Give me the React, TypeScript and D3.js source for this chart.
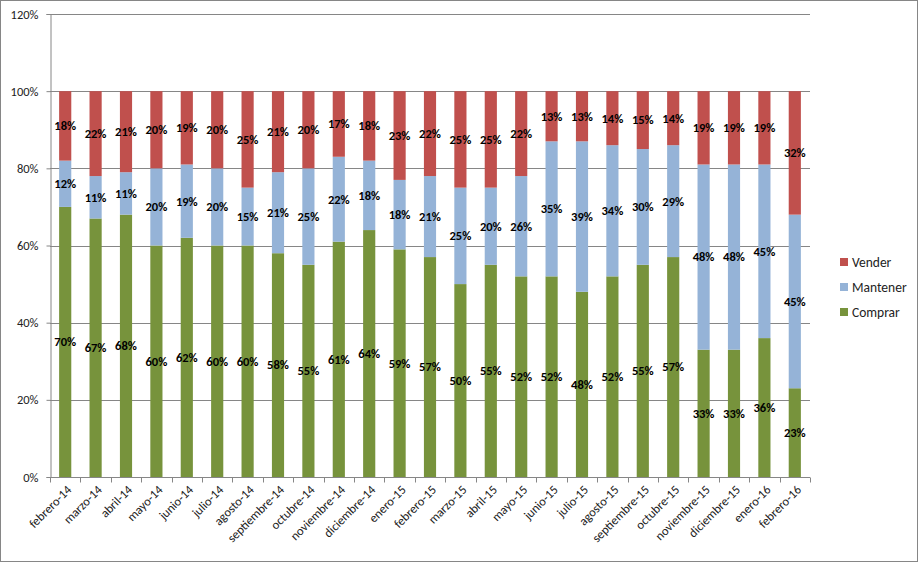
import React, { useEffect, useRef } from 'react';
import * as d3 from 'd3';

const months = [
  'febrero-14', 'marzo-14', 'abril-14', 'mayo-14', 'junio-14', 'julio-14', 'agosto-14',
  'septiembre-14', 'octubre-14', 'noviembre-14', 'diciembre-14', 'enero-15', 'febrero-15',
  'marzo-15', 'abril-15', 'mayo-15', 'junio-15', 'julio-15', 'agosto-15', 'septiembre-15',
  'octubre-15', 'noviembre-15', 'diciembre-15', 'enero-16', 'febrero-16',
];
const comprar = [70, 67, 68, 60, 62, 60, 60, 58, 55, 61, 64, 59, 57, 50, 55, 52, 52, 48, 52, 55, 57, 33, 33, 36, 23];
const mantener = [12, 11, 11, 20, 19, 20, 15, 21, 25, 22, 18, 18, 21, 25, 20, 26, 35, 39, 34, 30, 29, 48, 48, 45, 45];
const vender = [18, 22, 21, 20, 19, 20, 25, 21, 20, 17, 18, 23, 22, 25, 25, 22, 13, 13, 14, 15, 14, 19, 19, 19, 32];
const yTicks = [0, 20, 40, 60, 80, 100, 120];

const series = [
  { name: 'Comprar', values: comprar, color: '#77933C' },
  { name: 'Mantener', values: mantener, color: '#95B3D7' },
  { name: 'Vender', values: vender, color: '#C0504D' },
];

const App: React.FC = () => {
  const ref = useRef<SVGSVGElement>(null);

  useEffect(() => {
    const svg = d3.select(ref.current);
    svg.selectAll('*').remove();
    const font = 'Calibri, Carlito, Lato, "Open Sans", sans-serif';

    const left = 50, right = 810, top = 14, bottom = 477;
    const x = d3.scaleBand<string>().domain(months).range([left, right]).paddingInner(0.6).paddingOuter(0.3);
    const band = d3.scaleBand<string>().domain(months).range([left, right]);
    const y = d3.scaleLinear().domain([0, 120]).range([bottom, top]);

    svg.append('rect').attr('x', 0.5).attr('y', 0.5).attr('width', 917).attr('height', 561)
      .attr('fill', '#fff').attr('stroke', '#868686');

    // gridlines
    svg.append('g').selectAll('line').data(yTicks.filter(t => t > 0)).enter().append('line')
      .attr('x1', left).attr('x2', right)
      .attr('y1', d => Math.round(y(d)) + 0.5).attr('y2', d => Math.round(y(d)) + 0.5)
      .attr('stroke', '#868686').attr('stroke-width', 1);

    // stacks
    const stacked = series.map((s, si) => ({
      ...s,
      segs: s.values.map((v, i) => {
        const base = series.slice(0, si).reduce((a, p) => a + p.values[i], 0);
        return { m: months[i], v, y0: base, y1: base + v };
      }),
    }));

    stacked.forEach(s => {
      svg.append('g').selectAll('rect').data(s.segs).enter().append('rect')
        .attr('x', d => x(d.m) ?? 0)
        .attr('width', x.bandwidth())
        .attr('y', d => y(d.y1))
        .attr('height', d => y(d.y0) - y(d.y1))
        .attr('fill', s.color);
    });

    stacked.forEach(s => {
      svg.append('g').selectAll('text').data(s.segs).enter().append('text')
        .attr('x', d => (x(d.m) ?? 0) + x.bandwidth() / 2)
        .attr('y', d => (y(d.y0) + y(d.y1)) / 2)
        .attr('dy', '0.35em')
        .attr('text-anchor', 'middle')
        .attr('font-family', font).attr('font-size', 12.5).attr('font-weight', 'bold')
        .attr('fill', '#000')
        .text(d => `${d.v}%`);
    });

    // axes
    const yAxis = svg.append('g').attr('transform', `translate(${left + 0.5},0)`)
      .call(d3.axisLeft(y).tickValues(yTicks).tickFormat(d => `${d}%`).tickSize(4).tickPadding(8));
    yAxis.select('.domain').attr('stroke', '#868686');
    yAxis.selectAll('line').attr('stroke', '#868686');
    yAxis.selectAll('text').attr('font-family', font).attr('font-size', 12.5).attr('fill', '#222');

    const xg = svg.append('g').attr('transform', `translate(0,${bottom + 0.5})`);
    xg.append('line').attr('x1', left).attr('x2', right).attr('stroke', '#868686');
    xg.selectAll('line.tk').data([...months.map(m => band(m) ?? 0), right]).enter().append('line')
      .attr('class', 'tk')
      .attr('x1', d => Math.round(d) + 0.5).attr('x2', d => Math.round(d) + 0.5)
      .attr('y1', 0).attr('y2', 5).attr('stroke', '#868686');
    xg.selectAll('text').data(months).enter().append('text')
      .attr('transform', d => `translate(${(band(d) ?? 0) + band.bandwidth() / 2 + 4},10) rotate(-45)`)
      .attr('text-anchor', 'end')
      .attr('dy', '0.35em')
      .attr('font-family', font).attr('font-size', 12.5).attr('fill', '#222')
      .text(d => d);

    // legend
    const legend = svg.append('g').attr('transform', 'translate(840,0)');
    [...series].reverse().forEach((s, i) => {
      const ly = 262 + i * 25;
      legend.append('rect').attr('x', 0).attr('y', ly - 4).attr('width', 8).attr('height', 8).attr('fill', s.color);
      legend.append('text').attr('x', 12).attr('y', ly).attr('dy', '0.35em')
        .attr('font-family', font).attr('font-size', 13.5).attr('fill', '#222').text(s.name);
    });
  }, []);

  return <svg ref={ref} width={918} height={563} style={{ display: 'block', position: 'absolute', left: 0, top: 0 }} />;
};

export default App;
